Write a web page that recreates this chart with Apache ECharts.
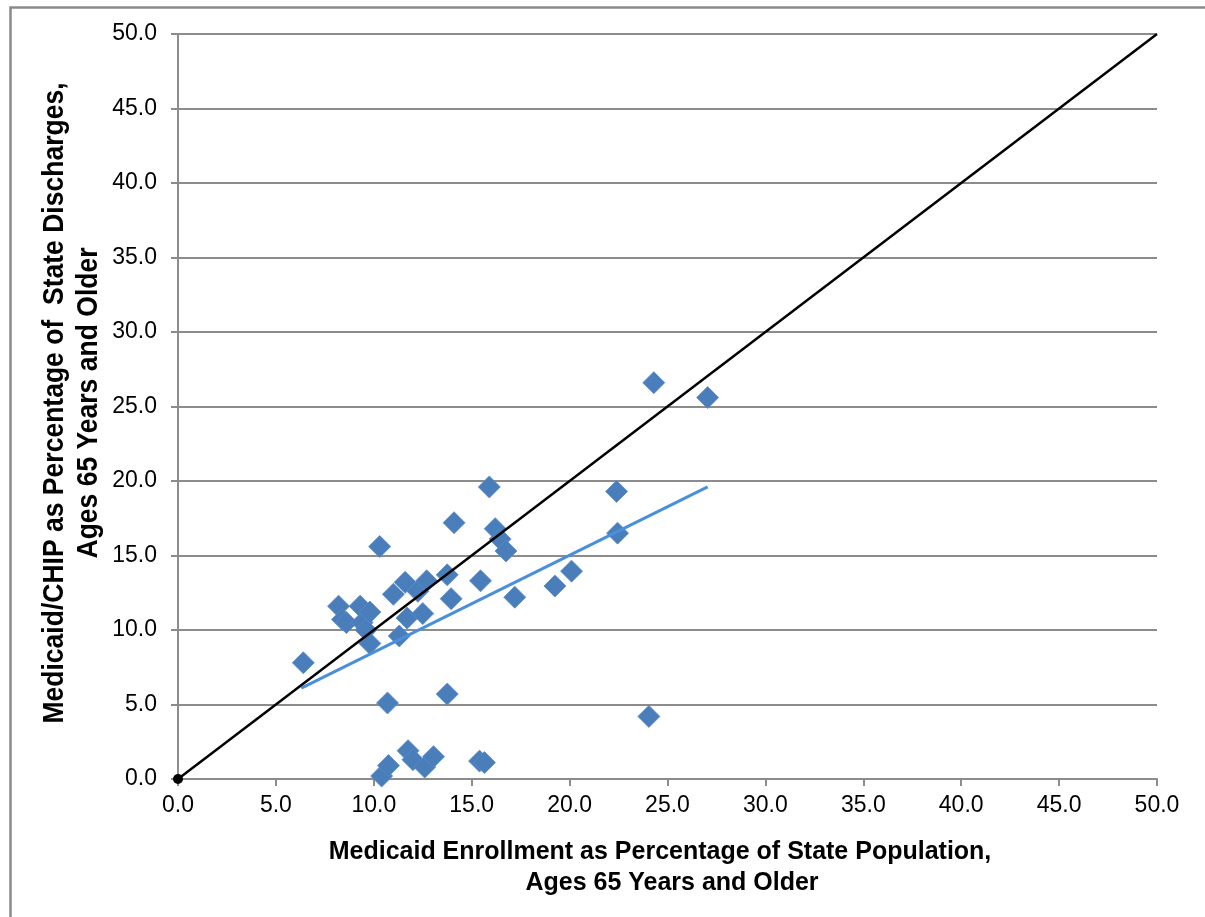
<!DOCTYPE html>
<html>
<head>
<meta charset="utf-8">
<script src="https://cdn.jsdelivr.net/npm/echarts@6/dist/echarts.min.js"></script>
<style>
html,body{margin:0;padding:0;background:#fff;}
#chart{width:1205px;height:917px;}
</style>
</head>
<body>
<div id="chart"></div>
<script>
// Scatter data (x: Medicaid enrollment %, y: Medicaid/CHIP discharges %)
var enrollPct = [6.4, 8.2, 8.4, 8.6, 9.3, 9.4, 9.6, 9.8, 9.8, 10.3, 10.4, 10.75, 10.7, 11.0, 11.3, 11.6, 11.7, 11.75, 12.0, 12.25, 12.5, 12.6, 12.7, 13.05, 13.75, 13.75, 13.95, 14.1, 15.4, 15.65, 15.45, 15.9, 16.2, 16.45, 16.75, 17.2, 19.25, 20.1, 22.4, 22.45, 24.3, 27.05, 24.05];
var dischargePct = [7.8, 11.6, 10.7, 10.5, 11.6, 10.5, 10.0, 11.2, 9.1, 15.6, 0.2, 0.9, 5.1, 12.4, 9.6, 13.2, 10.8, 1.9, 1.3, 12.6, 11.1, 0.8, 13.3, 1.5, 5.7, 13.7, 12.1, 17.2, 1.2, 1.1, 13.3, 19.6, 16.8, 16.1, 15.3, 12.2, 12.95, 13.95, 19.3, 16.5, 26.6, 25.6, 4.2];
// Linear trend line endpoints
var trendX = [6.3, 27.05];
var trendY = [6.1, 19.6];
// Reference line of equality
var diagX = [0, 50];
var diagY = [0, 50];
// Axis settings
var axisMin = 0, axisMax = 50, axisStep = 5;
var xTitle1 = 'Medicaid Enrollment as Percentage of State Population,';
var xTitle2 = 'Ages 65 Years and Older';
var yTitle = 'Medicaid/CHIP as Percentage of  State Discharges,\nAges 65 Years and Older';

var scatterData = enrollPct.map(function (x, i) { return [x, dischargePct[i]]; });
var trendData = trendX.map(function (x, i) { return [x, trendY[i]]; });
var diagData = [
  { value: [diagX[0], diagY[0]] },
  { value: [diagX[1], diagY[1]], symbol: 'none' }
];

var chart = echarts.init(document.getElementById('chart'), null, { renderer: 'canvas' });
var gridColor = '#8c8c8c';
var labelFont = { fontFamily: 'Liberation Sans, Arial, sans-serif', fontSize: 23, color: '#000' };
chart.setOption({
  backgroundColor: '#fff',
  animation: false,
  grid: { left: 178, right: 48, top: 34, bottom: 138, containLabel: false },
  xAxis: {
    type: 'value', min: axisMin, max: axisMax, interval: axisStep,
    axisLine: { show: true, lineStyle: { color: gridColor, width: 2 } },
    axisTick: { show: true, length: 7, lineStyle: { color: gridColor, width: 2 } },
    splitLine: { show: false },
    axisLabel: Object.assign({ margin: 15, formatter: function (v) { return v.toFixed(1); } }, labelFont)
  },
  yAxis: {
    type: 'value', min: axisMin, max: axisMax, interval: axisStep,
    axisLine: { show: true, lineStyle: { color: gridColor, width: 2 } },
    axisTick: { show: true, length: 7, lineStyle: { color: gridColor, width: 2 } },
    splitLine: { show: true, lineStyle: { color: gridColor, width: 2 } },
    axisLabel: Object.assign({ margin: 21, formatter: function (v) { return v.toFixed(1); } }, labelFont)
  },
  series: [
    {
      type: 'scatter', data: scatterData, symbol: 'diamond', symbolSize: 22, z: 2,
      itemStyle: { color: '#4a7ebb', opacity: 1, borderColor: '#5a8ac6', borderWidth: 0.8 }
    },
    {
      type: 'line', data: trendData, symbol: 'none', z: 3,
      lineStyle: { color: '#4a8fdb', width: 3 }
    },
    {
      type: 'line', data: diagData, symbol: 'circle', symbolSize: 10, showSymbol: true, z: 4, clip: false,
      itemStyle: { color: '#000' },
      lineStyle: { color: '#000', width: 2.5 }
    }
  ],
  graphic: [
    {
      type: 'rect', left: 8, top: 5, silent: true,
      shape: { width: 1205, height: 920 },
      style: { fill: 'none', stroke: '#8a8a8a', lineWidth: 2.5 }, z: 0
    },
    {
      type: 'text', x: 72, y: 403, rotation: Math.PI / 2, scaleX: 1.02, scaleY: 1.12,
      style: {
        text: yTitle, font: 'bold 26px "Liberation Sans", Arial, sans-serif', fill: '#000',
        align: 'center', verticalAlign: 'middle', lineHeight: 31
      }
    },
    {
      type: 'text', x: 660, y: 852,
      style: {
        text: xTitle1, font: 'bold 25px "Liberation Sans", Arial, sans-serif', fill: '#000',
        align: 'center', verticalAlign: 'middle'
      }
    },
    {
      type: 'text', x: 672, y: 883,
      style: {
        text: xTitle2, font: 'bold 25px "Liberation Sans", Arial, sans-serif', fill: '#000',
        align: 'center', verticalAlign: 'middle'
      }
    }
  ]
});
</script>
</body>
</html>
